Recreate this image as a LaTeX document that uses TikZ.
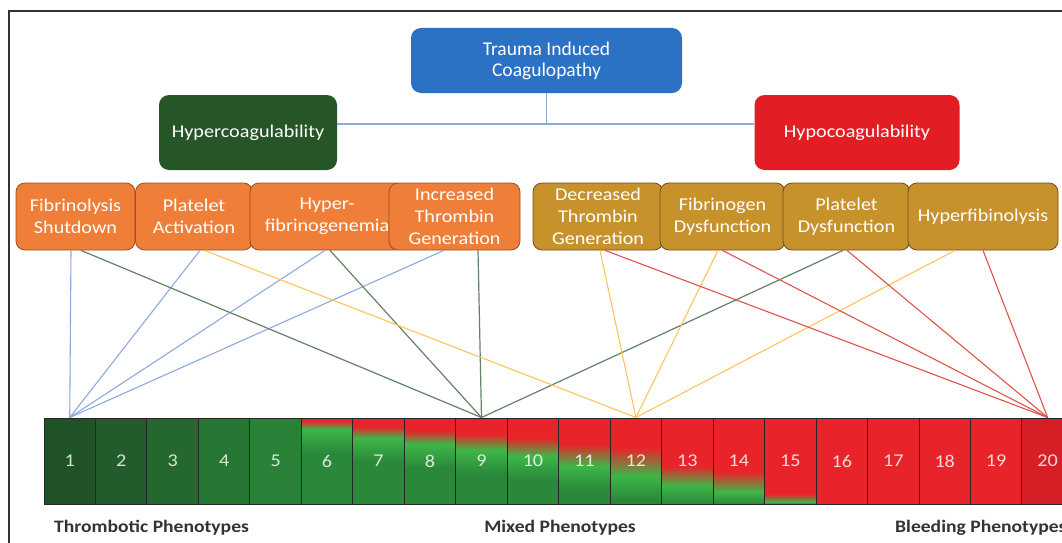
\documentclass[tikz,border=0pt]{standalone}
\usepackage{fontspec}
\setmainfont{Carlito}[FakeStretch=1.12]
\newfontfamily\narrowfont{Carlito}
\usetikzlibrary{positioning,calc}

\definecolor{ticblue}{RGB}{44,114,196}
\definecolor{hypergreen}{RGB}{38,86,40}
\definecolor{hypored}{RGB}{226,30,36}
\definecolor{proorange}{RGB}{238,126,56}
\definecolor{proorangeline}{RGB}{150,80,40}
\definecolor{progold}{RGB}{199,145,44}
\definecolor{progoldline}{RGB}{110,80,30}
\definecolor{thromb1}{RGB}{32,82,40}
\definecolor{thromb2}{RGB}{34,92,44}
\definecolor{thromb3}{RGB}{36,104,48}
\definecolor{thromb4}{RGB}{38,118,52}
\definecolor{thromb5}{RGB}{42,129,56}
\definecolor{mixbright}{RGB}{62,182,72}
\definecolor{mixgreen}{RGB}{42,136,58}
\definecolor{bleedred}{RGB}{232,36,42}
\definecolor{bleeddark}{RGB}{214,30,38}
\definecolor{linkblue}{RGB}{142,169,219}
\definecolor{linkgreen}{RGB}{100,130,100}
\definecolor{linkyellow}{RGB}{255,196,90}
\definecolor{linkred}{RGB}{224,82,76}

\begin{document}
\begin{tikzpicture}[
    x=1pt, y=-1pt,
    headbox/.style={rectangle, rounded corners=10pt, inner sep=0pt, align=center, text=white, font=\fontsize{18}{21}\selectfont},
    thrombox/.style={rectangle, rounded corners=9pt, draw=proorangeline, line width=0.8pt, fill=proorange, minimum height=67pt, inner sep=0pt, align=center, text=white, font=\fontsize{18}{22}\selectfont},
    bleedbox/.style={thrombox, draw=progoldline, fill=progold},
    cellbox/.style={rectangle, draw=black!85, line width=1pt, minimum width=51.47pt, minimum height=86pt, inner sep=0pt, text=white, text opacity=0.82, font=\fontsize{18}{20}\selectfont},
    phenolabel/.style={inner sep=0pt, text=black!80, font=\bfseries\fontsize{17.5}{20}\selectfont},
    treelink/.style={draw=linkblue, line width=1.4pt},
    bluelink/.style={draw=linkblue, line width=1.1pt},
    greenlink/.style={draw=linkgreen, line width=1.2pt},
    yellowlink/.style={draw=linkyellow, line width=1.1pt},
    redlink/.style={draw=linkred, line width=1.1pt}
]
    \useasboundingbox (0,0) rectangle (1062,543);
    \clip (0,0) rectangle (1062,543);
    \fill[white] (0,0) rectangle (1062,543);

    % top of the tree
    \node[headbox, fill=ticblue, minimum width=271pt, minimum height=65pt, font=\narrowfont\fontsize{19.5}{21}\selectfont] (tic) at (546.5,60.5) {Trauma Induced\\Coagulopathy};
    \node[headbox, fill=hypergreen, minimum width=178pt, minimum height=75pt] (hyc) at (248,132.5) {Hypercoagulability};
    \node[headbox, fill=hypored, minimum width=205pt, minimum height=75pt] (hpc) at (857,132.5) {Hypocoagulability};
    \coordinate (split) at (546.5,124);
    \draw[treelink] (tic.south) -- (split);
    \draw[treelink] (hyc.east |- split) -- (hpc.west |- split);

    % mechanisms
    \node[thrombox, minimum width=119pt] (fs) at (75.5,216.5) {Fibrinolysis\\Shutdown};
    \node[thrombox, minimum width=117pt] (pa) at (194,216.5) {Platelet\\Activation};
    \node[thrombox, minimum width=154pt] (hf) at (327,216.5) {Hyper-\\fibrinogenemia};
    \node[thrombox, minimum width=131pt] (it) at (454.5,216.5) {Increased\\Thrombin\\Generation};
    \node[bleedbox, minimum width=130pt] (dt) at (598,216.5) {Decreased\\Thrombin\\Generation};
    \node[bleedbox, minimum width=125pt] (fd) at (722.5,216.5) {Fibrinogen\\Dysfunction};
    \node[bleedbox, minimum width=127pt] (pd) at (846.5,216.5) {Platelet\\Dysfunction};
    \node[bleedbox, minimum width=150pt] (hy) at (983,216.5) {Hyperfibinolysis};

    % phenotype bar
    \foreach \i/\col in {1/thromb1,2/thromb2,3/thromb3,4/thromb4,5/thromb5}
        \fill[\col] ({44+(\i-1)*51.47},418) rectangle ++(51.47,86);
    \foreach \i/\r/\g in {6/3/11, 7/9/20, 8/13/26, 9/16/32, 10/20/38, 11/26/48, 12/30/58, 13/48/68, 14/54/74, 15/76/84} {
        \pgfmathsetmacro\xl{44+(\i-1)*51.47}
        \pgfmathsetmacro\m{min(\g+24,86)}
        \fill[bleedred] (\xl,418) rectangle ++(51.47,\r);
        \shade[top color=bleedred, bottom color=mixbright] (\xl,{418+\r}) rectangle ++(51.47,{\g-\r});
        \shade[top color=mixbright, bottom color=mixgreen] (\xl,{418+\g}) rectangle ++(51.47,{\m-\g});
        \fill[mixgreen] (\xl,{418+\m}) rectangle (\xl+51.47,504);
    }
    \foreach \i/\col in {16/bleedred,17/bleedred,18/bleedred,19/bleedred,20/bleeddark}
        \fill[\col] ({44+(\i-1)*51.47},418) rectangle ++(51.47,86);
    \foreach \i in {1,...,20}
        \node[cellbox] (c\i) at ({44+(\i-0.5)*51.47},461) {\i};

    % links to phenotypes
    \draw[bluelink] ([xshift=-4.5pt]fs.south) -- (c1.north);
    \draw[bluelink] ([xshift=6pt]pa.south) -- (c1.north);
    \draw[bluelink] ([xshift=-2pt]hf.south) -- (c1.north);
    \draw[bluelink] ([xshift=-10.5pt]it.south) -- (c1.north);
    \draw[greenlink] ([xshift=5.5pt]fs.south) -- (c9.north);
    \draw[greenlink] ([xshift=3pt]hf.south) -- (c9.north);
    \draw[greenlink] ([xshift=23.5pt]it.south) -- (c9.north);
    \draw[greenlink] ([xshift=-3.5pt]pd.south) -- (c9.north);
    \draw[yellowlink] ([xshift=10.5pt]pa.south) -- (c12.north);
    \draw[yellowlink] ([xshift=2pt]dt.south) -- (c12.north);
    \draw[yellowlink] ([xshift=-4.5pt]fd.south) -- (c12.north);
    \draw[yellowlink] ([xshift=-28pt]hy.south) -- (c12.north);
    \draw[redlink] ([xshift=7pt]dt.south) -- (c20.north);
    \draw[redlink] (fd.south) -- (c20.north);
    \draw[redlink] ([xshift=0.5pt]pd.south) -- (c20.north);
    \draw[redlink] (hy.south) -- (c20.north);

    % labels
    \node[phenolabel, anchor=west] (thr) at (54,528) {Thrombotic Phenotypes};
    \node[phenolabel] (mix) at (560,528) {Mixed Phenotypes};
    \node[phenolabel, anchor=west] (blc) at (895,528) {Bleeding Phenotypes};

    % frame
    \draw[black!80, line width=2.5pt] (9,545) -- (9,11) -- (1064,11);
\end{tikzpicture}
\end{document}
